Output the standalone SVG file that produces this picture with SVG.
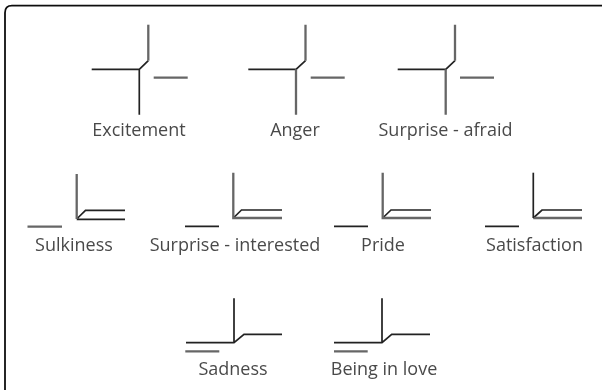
<svg xmlns="http://www.w3.org/2000/svg" width="602" height="390" viewBox="0 0 602 390">
<defs><style>
.d{fill:none;stroke:#222;stroke-width:1.700}
.g{fill:none;stroke:#666;stroke-width:2.300}
text{font-family:"Open Sans","Noto Sans",sans-serif;font-size:18px;fill:#4a4a4a;text-anchor:middle}
</style>
<filter id="soft" x="-5%" y="-5%" width="110%" height="110%"><feGaussianBlur stdDeviation="0.400"/></filter></defs>
<g filter="url(#soft)">
<path d="M602 5.700H12Q5 5.700 5 12.700V390" fill="none" stroke="#111" stroke-width="1.800"/>
<g id="connectors"/>
<g id="excitement"><path class="d" d="M91.700 69.300H139.300L148.300 60.700M139.300 69.300V114.700"/><path class="g" d="M148.300 60.700V24.700"/><path class="g" d="M153.700 77.700H187.700"/><text x="139" y="136">Excitement</text></g>
<g id="anger"><path class="d" d="M248.300 69.300H296L305.500 60.700"/><path class="g" d="M305.500 60.700V24.700M296 69.300V114.700"/><path class="g" d="M310.700 77.700H344.700"/><text x="295" y="136">Anger</text></g>
<g id="surprise-afraid"><path class="d" d="M397.700 69.300H445.700L455 60.700"/><path class="g" d="M455 60.700V24.700M445.700 69.300V114.700"/><path class="g" d="M460 77.700H494"/><text x="445.500" y="136">Surprise - afraid</text></g>
<g id="sulkiness"><path class="d" d="M76.700 219L85.500 210.300H125M76.700 219.300H125"/><path class="g" d="M76.700 174V219"/><path class="g" d="M27.500 226.700H62"/><text x="74" y="251">Sulkiness</text></g>
<g id="surprise-interested"><path class="d" d="M233.300 218L241.500 210H282"/><path class="g" d="M233.300 172.700V218H282"/><path class="d" d="M185 226.300H219"/><text x="235" y="251">Surprise - interested</text></g>
<g id="pride"><path class="d" d="M382.700 218L391 210H431"/><path class="g" d="M382.700 172.700V218H431"/><path class="d" d="M334 226.300H368"/><text x="383" y="251">Pride</text></g>
<g id="satisfaction"><path class="d" d="M533.300 218L542 210H582"/><path class="g" d="M533.300 218H582"/><path class="d" d="M533.300 172.700V218"/><path class="d" d="M485 226.300H519"/><text x="534.500" y="251">Satisfaction</text></g>
<g id="sadness"><path class="d" d="M186 342.700H234L244 334.300H282M234 342.700V298.300"/><path class="g" d="M185.300 351.300H219.300"/><text x="233" y="375">Sadness</text></g>
<g id="being-in-love"><path class="d" d="M334 342.700H382L391.700 334.300H430M382 342.700V298.300"/><path class="g" d="M334 351.300H367.700"/><text x="384" y="375">Being in love</text></g>
</g>
</svg>
